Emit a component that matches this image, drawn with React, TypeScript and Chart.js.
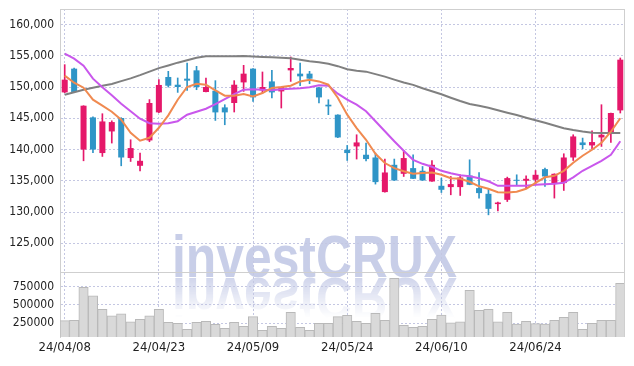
import React, { useEffect, useRef } from 'react';
import { Chart, registerables } from 'chart.js';

Chart.register(...registerables);

const dates = [
  '24/04/08', '24/04/09', '24/04/11', '24/04/12', '24/04/15', '24/04/16', '24/04/17', '24/04/18', '24/04/19', '24/04/22',
  '24/04/23', '24/04/24', '24/04/25', '24/04/26', '24/04/29', '24/04/30', '24/05/02', '24/05/03', '24/05/07', '24/05/08',
  '24/05/09', '24/05/10', '24/05/13', '24/05/14', '24/05/16', '24/05/17', '24/05/20', '24/05/21', '24/05/22', '24/05/23',
  '24/05/24', '24/05/27', '24/05/28', '24/05/29', '24/05/30', '24/05/31', '24/06/03', '24/06/04', '24/06/05', '24/06/07',
  '24/06/10', '24/06/11', '24/06/12', '24/06/13', '24/06/14', '24/06/17', '24/06/18', '24/06/19', '24/06/20', '24/06/21',
  '24/06/24', '24/06/25', '24/06/26', '24/06/27', '24/06/28', '24/07/01', '24/07/02', '24/07/03', '24/07/04', '24/07/05',
];

const openP = [
  149150, 152950, 140000, 145150, 139440, 142900, 145050, 138640, 137400, 141460,
  145950, 151620, 150380, 151350, 152680, 149210, 149420, 146750, 147450, 150750,
  152950, 149470, 150910, 149310, 152680, 152150, 152150, 149950, 147180, 145580,
  139970, 140500, 139170, 138730, 133190, 137560, 136120, 137030, 136600, 134890,
  134200, 133990, 133990, 135850, 133830, 132920, 131270, 131950, 135160, 135000,
  135160, 136870, 134470, 134630, 138730, 141140, 140660, 141940, 142740, 146270,
];
const highP = [
  153590, 153060, 147020, 145250, 145740, 144600, 145100, 141570, 139440, 148000,
  151190, 152520, 151460, 153860, 153320, 151460, 151030, 147180, 151030, 153480,
  152950, 152420, 152680, 150010, 154820, 153860, 152520, 149950, 147980, 145580,
  140660, 142370, 141040, 139440, 138480, 138480, 139860, 139170, 137290, 138250,
  135430, 135690, 135960, 138360, 136330, 133720, 131600, 135590, 135960, 135800,
  136650, 137030, 136120, 139330, 142370, 141840, 143010, 147180, 145850, 154660,
];
const lowP = [
  149100, 149200, 138200, 139500, 138900, 141040, 137400, 138090, 136600, 141250,
  145900, 150000, 149150, 149470, 149580, 149210, 144660, 143970, 146010, 149310,
  147710, 149050, 148250, 146650, 150910, 150220, 150540, 147450, 145580, 141900,
  138250, 138480, 138200, 134470, 133190, 135050, 135690, 135320, 135050, 134890,
  133120, 132760, 132650, 134360, 132230, 129550, 130190, 131680, 134250, 133830,
  134360, 134090, 132230, 133450, 138250, 140130, 140130, 140500, 141140, 145850,
];
const closeP = [
  151190, 149220, 147020, 140000, 144500, 144400, 138730, 140240, 138200, 147450,
  150340, 150220, 150010, 151030, 150010, 150010, 145950, 145950, 150380, 152150,
  148350, 150010, 149150, 150010, 153060, 151720, 151350, 148350, 146910, 141940,
  139440, 141140, 138480, 134790, 136330, 135050, 138640, 135320, 135050, 137560,
  133560, 134470, 135530, 134360, 133030, 130510, 131520, 135430, 135000, 135320,
  135960, 135690, 136120, 138730, 142100, 140720, 141200, 142370, 145850, 154390,
];
const volume = [
  285000, 291000, 742000, 623000, 441000, 350000, 377000, 268000, 305000, 350000,
  441000, 263000, 250000, 168000, 263000, 277000, 236000, 182000, 263000, 209000,
  340000, 154000, 209000, 182000, 400000, 195000, 154000, 250000, 250000, 340000,
  359000, 277000, 250000, 386000, 291000, 865000, 223000, 195000, 209000, 305000,
  363000, 254000, 268000, 700000, 427000, 441000, 268000, 400000, 240000, 277000,
  245000, 240000, 291000, 332000, 400000, 168000, 250000, 291000, 291000, 796000,
];
const ma5 = [
  151830, 150700, 149900, 147980, 147020, 146060, 144780, 142690, 141410, 141890,
  143490, 145470, 147980, 150010, 150540, 150380, 149470, 148620, 148620, 148890,
  148510, 149050, 149860, 150010, 150220, 150910, 151190, 150910, 150380, 148300,
  145580, 143440, 141570, 139330, 137840, 137030, 136520, 136120, 136230, 136330,
  135960, 135400, 135320, 134840, 134120, 133720, 133160, 133120, 133240, 133720,
  134680, 135560, 135800, 136600, 137880, 139010, 139970, 141090, 142850, 145020,
];
const ma20 = [
  155350, 154550, 153430, 151350, 149980, 148700, 147340, 146140, 144940, 144220,
  144130, 144220, 144540, 145580, 146060, 146540, 147260, 148060, 148860, 149580,
  149660, 149580, 149500, 149660, 149740, 149820, 149980, 150300, 150220, 148940,
  147980, 147180, 146140, 144540, 142930, 141330, 139810, 138360, 137720, 137240,
  136600, 136200, 135880, 135720, 135400, 134930, 134200, 134200, 134200, 134200,
  134360, 134440, 134520, 134680, 135560, 136600, 137400, 138200, 139170, 141330,
];
const ma60 = [
  148780, 149180, 149580, 149900, 150220, 150500, 150950, 151400, 151910, 152470,
  153030, 153460, 153910, 154310, 154710, 154950, 154950, 154920, 154950, 154980,
  154900, 154820, 154760, 154710, 154630, 154390, 154130, 153960, 153750, 153350,
  152870, 152630, 152470, 152070, 151670, 151190, 150740, 150350, 149820, 149340,
  148860, 148300, 147770, 147290, 147020, 146700, 146300, 145900, 145530, 145100,
  144700, 144300, 143850, 143410, 143120, 142880, 142690, 142640, 142640, 142640,
];
const priceTicks = [125000, 130000, 135000, 140000, 145000, 150000, 155000, 160000];
const volumeTicks = [250000, 500000, 750000];

const UP = '#e5186a';
const DOWN = '#2f95c7';
const GRID = '#c4c7e2';
const FONT = "'DejaVu Sans Condensed', 'Liberation Sans Narrow', sans-serif";

const watermark = {
  id: 'watermark',
  beforeDraw(chart: any) {
    const ctx = chart.ctx as CanvasRenderingContext2D;
    const text = 'investCRUX';
    const font = "bold 60px 'Liberation Sans', Arial, sans-serif";
    const targetW = 285;
    const left = 164;
    const base = 269;
    ctx.save();
    ctx.font = font;
    const w = ctx.measureText(text).width;
    const sx = targetW / w;
    ctx.translate(left, base);
    ctx.scale(sx, 1);
    ctx.fillStyle = 'rgba(190,197,228,0.85)';
    ctx.textBaseline = 'alphabetic';
    ctx.fillText(text, 0, 0);
    ctx.restore();

    const off = document.createElement('canvas');
    off.width = targetW + 10;
    off.height = 46;
    const o = off.getContext('2d') as CanvasRenderingContext2D;
    o.font = font;
    o.save();
    o.scale(sx, -1);
    o.fillStyle = 'rgba(190,197,228,0.7)';
    o.fillText(text, 0, 0);
    o.restore();
    o.globalCompositeOperation = 'destination-in';
    const g = o.createLinearGradient(0, 0, 0, 40);
    g.addColorStop(0, 'rgba(0,0,0,1)');
    g.addColorStop(1, 'rgba(0,0,0,0)');
    o.fillStyle = g;
    o.fillRect(0, 0, off.width, off.height);
    ctx.drawImage(off, left, base + 1);
  },
};

const frame = {
  id: 'frame',
  afterDraw(chart: any) {
    const ctx = chart.ctx as CanvasRenderingContext2D;
    const a = chart.chartArea;
    const yv = chart.scales.yVol;
    ctx.save();
    ctx.strokeStyle = '#cfcfcf';
    ctx.lineWidth = 1;
    ctx.beginPath();
    ctx.moveTo(a.left, Math.round(a.top) + 0.5);
    ctx.lineTo(a.right, Math.round(a.top) + 0.5);
    ctx.moveTo(Math.round(a.right) - 0.5, a.top);
    ctx.lineTo(Math.round(a.right) - 0.5, a.bottom);
    ctx.moveTo(a.left, Math.round(yv.top) + 0.5);
    ctx.lineTo(a.right, Math.round(yv.top) + 0.5);
    ctx.stroke();
    ctx.restore();
  },
};

const fitY = (axis: any) => {
  axis.width = 52;
  axis.paddingTop = 0;
  axis.paddingBottom = 0;
};

export default function App() {
  const ref = useRef<HTMLCanvasElement | null>(null);

  useEffect(() => {
    const canvas = ref.current;
    if (!canvas) return;
    const colors = openP.map((o, i) => (closeP[i] >= o ? UP : DOWN));
    const chart = new Chart(canvas, {
      type: 'bar',
      data: {
        labels: dates,
        datasets: [
          {
            type: 'line', label: 'MA5', data: ma5, borderColor: '#f08a50', borderWidth: 2,
            pointRadius: 0, yAxisID: 'y', order: 0,
          } as any,
          {
            type: 'line', label: 'MA20', data: ma20, borderColor: '#c957ec', borderWidth: 2,
            pointRadius: 0, yAxisID: 'y', order: 0,
          } as any,
          {
            type: 'line', label: 'MA60', data: ma60, borderColor: '#808080', borderWidth: 2,
            pointRadius: 0, yAxisID: 'y', order: 0,
          } as any,
          {
            type: 'bar', label: 'body', data: openP.map((o, i) => [o, closeP[i]]),
            backgroundColor: colors, barPercentage: 0.64, categoryPercentage: 1,
            grouped: false, yAxisID: 'y', order: 1,
          } as any,
          {
            type: 'bar', label: 'wick', data: lowP.map((l, i) => [l, highP[i]]),
            backgroundColor: colors, barThickness: 1,
            grouped: false, yAxisID: 'y', order: 2,
          } as any,
          {
            type: 'bar', label: 'volume', data: volume,
            backgroundColor: '#d9d9d9', borderColor: '#b9b9b9', borderWidth: 1,
            barPercentage: 1, categoryPercentage: 1, grouped: false, yAxisID: 'yVol', order: 3,
          } as any,
        ],
      },
      options: {
        responsive: false,
        animation: false,
        events: [],
        layout: { padding: { top: 1, right: 1, left: 0, bottom: 0 } },
        plugins: { legend: { display: false }, tooltip: { enabled: false } },
        scales: {
          x: {
            offset: true,
            afterFit: (axis: any) => {
              axis.height = 21;
              axis.paddingLeft = 0;
              axis.paddingRight = 0;
            },
            grid: {
              offset: false,
              drawTicks: false,
              color: (c: any) => (c.index % 10 === 0 ? GRID : 'rgba(0,0,0,0)'),
            },
            border: { display: false, dash: [2, 2] },
            ticks: {
              autoSkip: false,
              maxRotation: 0,
              padding: 3,
              color: '#222',
              font: { family: FONT, size: 13 },
              callback: (_v: any, i: number) => (i % 10 === 0 ? dates[i] : ''),
            },
          },
          yVol: {
            position: 'left',
            stack: 'panel',
            stackWeight: 65,
            min: 62000,
            max: 950000,
            afterBuildTicks: (axis: any) => {
              axis.ticks = volumeTicks.map((v) => ({ value: v }));
            },
            afterFit: fitY,
            grid: { drawTicks: false, color: GRID },
            border: { display: true, color: '#cfcfcf', width: 1, dash: [2, 2] },
            ticks: {
              autoSkip: false,
              padding: 6,
              color: '#222',
              font: { family: FONT, size: 12 },
              callback: (v: any) => String(v),
            },
          },
          y: {
            position: 'left',
            stack: 'panel',
            stackWeight: 263,
            min: 120400,
            max: 162500,
            afterBuildTicks: (axis: any) => {
              axis.ticks = priceTicks.map((v) => ({ value: v }));
            },
            afterFit: fitY,
            grid: { drawTicks: false, color: GRID },
            border: { display: true, color: '#cfcfcf', width: 1, dash: [2, 2] },
            ticks: {
              autoSkip: false,
              padding: 6,
              color: '#222',
              font: { family: FONT, size: 12 },
              callback: (v: any) => Number(v).toLocaleString('en-US'),
            },
          },
        },
      } as any,
      plugins: [watermark, frame],
    });
    return () => chart.destroy();
  }, []);

  return (
    <div style={{ width: 618, height: 350 }}>
      <canvas ref={ref} width={618} height={350} style={{ display: 'block' }} />
    </div>
  );
}
